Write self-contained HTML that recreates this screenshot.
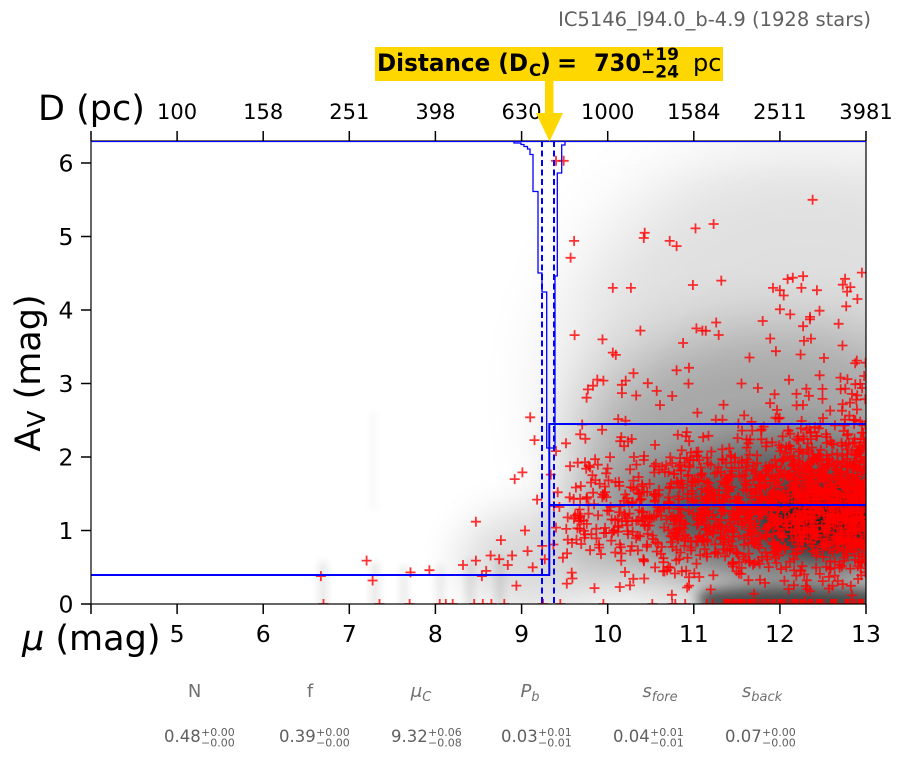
<!DOCTYPE html>
<html><head><meta charset="utf-8">
<style>
html,body{margin:0;padding:0;background:#fff;}
svg{display:block;}
text{font-family:"DejaVu Sans","Liberation Sans",sans-serif;}
</style></head><body>
<svg id="s" width="902" height="759" viewBox="0 0 902 759" xmlns="http://www.w3.org/2000/svg">
<defs>
<clipPath id="pa"><rect x="91" y="141" width="775" height="463"/></clipPath>
<filter id="b40" filterUnits="userSpaceOnUse" x="-200" y="-200" width="1300" height="1200"><feGaussianBlur stdDeviation="40"/></filter>
<filter id="b32" filterUnits="userSpaceOnUse" x="-200" y="-200" width="1300" height="1200"><feGaussianBlur stdDeviation="32"/></filter>
<filter id="b22" filterUnits="userSpaceOnUse" x="-200" y="-200" width="1300" height="1200"><feGaussianBlur stdDeviation="22"/></filter>
<filter id="b14" filterUnits="userSpaceOnUse" x="-200" y="-200" width="1300" height="1200"><feGaussianBlur stdDeviation="14"/></filter>
<filter id="b6" filterUnits="userSpaceOnUse" x="-200" y="-200" width="1300" height="1200"><feGaussianBlur stdDeviation="6"/></filter>
<filter id="b4" filterUnits="userSpaceOnUse" x="-200" y="-200" width="1300" height="1200"><feGaussianBlur stdDeviation="4"/></filter>
</defs>
<rect width="902" height="759" fill="#fff"/>

<!-- density -->
<g clip-path="url(#pa)">
  <ellipse cx="806" cy="395" rx="250" ry="250" fill="#000" opacity="0.12" filter="url(#b40)"/>
  <ellipse cx="780" cy="457" rx="200" ry="130" fill="#000" opacity="0.25" filter="url(#b32)"/>
  <ellipse cx="797" cy="508" rx="140" ry="70" fill="#000" opacity="0.45" filter="url(#b22)"/>
  <ellipse cx="832" cy="519" rx="70" ry="35" fill="#000" opacity="0.6" filter="url(#b14)"/>
  <ellipse cx="640" cy="520" rx="70" ry="55" fill="#000" opacity="0.18" filter="url(#b22)"/>
  <ellipse cx="539" cy="560" rx="80" ry="50" fill="#000" opacity="0.15" filter="url(#b22)"/>
  <rect x="700" y="592" width="190" height="22" fill="#000" opacity="0.5" filter="url(#b6)"/>
  <ellipse cx="797" cy="598" rx="100" ry="15" fill="#000" opacity="0.3" filter="url(#b6)"/>
  <rect x="319" y="562" width="8" height="50" fill="#000" opacity="0.1" filter="url(#b4)"/>
  <rect x="371" y="562" width="8" height="50" fill="#000" opacity="0.1" filter="url(#b4)"/>
  <rect x="400" y="565" width="8" height="50" fill="#000" opacity="0.08" filter="url(#b4)"/>
  <rect x="436" y="565" width="8" height="50" fill="#000" opacity="0.08" filter="url(#b4)"/>
  <rect x="466" y="560" width="8" height="50" fill="#000" opacity="0.1" filter="url(#b4)"/>
  <rect x="496" y="555" width="8" height="50" fill="#000" opacity="0.1" filter="url(#b4)"/>
  <rect x="370" y="412" width="6" height="98" fill="#000" opacity="0.035" filter="url(#b4)"/>
  <rect x="560" y="141" width="306" height="22" fill="#fff" opacity="0.35" filter="url(#b14)"/>

  <g id="sc" fill="none" stroke="#ff0000" stroke-opacity="0.8" stroke-width="1.8"></g>

  <!-- histogram -->
  <line x1="91" y1="141.5" x2="866" y2="141.5" stroke="#0000ff" stroke-width="1.2"/>
  <polyline fill="none" stroke="#0000ff" stroke-width="1.3" points="514,141.5 514,143 521,143 521,144.5 524,144.5 524,146.5 527.5,146.5 527.5,149 530,149 530,154.5 533,154.5 533,191.5 538,191.5 538,273 542,273 542,292 546.7,292 546.7,448 555,448 555,276 557.3,276 557.3,173 561.7,173 561.7,145 565,145 565,141.5"/>
  <!-- dashed -->
  <line x1="542" y1="141" x2="542" y2="604" stroke="#0000ff" stroke-width="2" stroke-dasharray="6,3.5"/>
  <line x1="554" y1="141" x2="554" y2="604" stroke="#0000ff" stroke-width="2" stroke-dasharray="6,3.5"/>
  <!-- steps -->
  <polyline fill="none" stroke="#0000ff" stroke-width="2" points="91,575 549.3,575 549.3,424 866,424"/>
  <line x1="549.3" y1="505" x2="866" y2="505" stroke="#0000ff" stroke-width="2"/>
</g>

<!-- spines -->
<rect x="91" y="141" width="775" height="463" fill="none" stroke="#000" stroke-width="1.2"/>
<line x1="91" y1="141.5" x2="866" y2="141.5" stroke="#0000ff" stroke-width="1"/>

<!-- ticks -->
<g stroke="#000" stroke-width="1.5">
  <line x1="91" y1="604" x2="91" y2="614"/><line x1="177.1" y1="604" x2="177.1" y2="614"/><line x1="263.2" y1="604" x2="263.2" y2="614"/><line x1="349.3" y1="604" x2="349.3" y2="614"/><line x1="435.4" y1="604" x2="435.4" y2="614"/><line x1="521.6" y1="604" x2="521.6" y2="614"/><line x1="607.7" y1="604" x2="607.7" y2="614"/><line x1="693.8" y1="604" x2="693.8" y2="614"/><line x1="779.9" y1="604" x2="779.9" y2="614"/><line x1="866" y1="604" x2="866" y2="614"/>
  <line x1="91" y1="141" x2="91" y2="131"/><line x1="177.1" y1="141" x2="177.1" y2="131"/><line x1="263.2" y1="141" x2="263.2" y2="131"/><line x1="349.3" y1="141" x2="349.3" y2="131"/><line x1="435.4" y1="141" x2="435.4" y2="131"/><line x1="521.6" y1="141" x2="521.6" y2="131"/><line x1="607.7" y1="141" x2="607.7" y2="131"/><line x1="693.8" y1="141" x2="693.8" y2="131"/><line x1="779.9" y1="141" x2="779.9" y2="131"/><line x1="866" y1="141" x2="866" y2="131"/>
  <line x1="81" y1="604" x2="91" y2="604"/><line x1="81" y1="530.5" x2="91" y2="530.5"/><line x1="81" y1="457" x2="91" y2="457"/><line x1="81" y1="383.5" x2="91" y2="383.5"/><line x1="81" y1="310" x2="91" y2="310"/><line x1="81" y1="236.5" x2="91" y2="236.5"/><line x1="81" y1="163" x2="91" y2="163"/>
</g>

<!-- bottom tick labels -->
<g font-size="23.5" fill="#000" text-anchor="middle">
  <text x="177.1" y="642">5</text><text x="263.2" y="642">6</text><text x="349.3" y="642">7</text><text x="435.4" y="642">8</text><text x="521.6" y="642">9</text><text x="607.7" y="642">10</text><text x="693.8" y="642">11</text><text x="779.9" y="642">12</text><text x="866" y="642">13</text>
</g>
<!-- left tick labels -->
<g font-size="23.5" fill="#000" text-anchor="end">
  <text x="73.5" y="612.6">0</text><text x="73.5" y="539.1">1</text><text x="73.5" y="465.6">2</text><text x="73.5" y="392.1">3</text><text x="73.5" y="318.6">4</text><text x="73.5" y="245.1">5</text><text x="73.5" y="171.6">6</text>
</g>
<!-- top tick labels -->
<g font-size="21" fill="#000" text-anchor="middle">
  <text x="177.1" y="119">100</text><text x="263.2" y="119">158</text><text x="349.3" y="119">251</text><text x="435.4" y="119">398</text><text x="521.6" y="119">630</text><text x="607.7" y="119">1000</text><text x="693.8" y="119">1584</text><text x="779.9" y="119">2511</text><text x="866" y="119">3981</text>
</g>

<!-- axis labels -->
<text x="38" y="120" font-size="35" fill="#000">D (pc)</text>
<text x="22" y="650" font-size="35" fill="#000"><tspan font-style="italic">μ</tspan> (mag)</text>
<text transform="translate(40,373) rotate(-90)" text-anchor="middle" font-size="35" fill="#000">A<tspan font-size="25" dy="5">V</tspan><tspan dy="-5"> (mag)</tspan></text>

<!-- title -->
<text x="871" y="26" text-anchor="end" font-size="19.5" fill="#606060">IC5146_l94.0_b-4.9 (1928 stars)</text>

<!-- annotation -->
<rect x="375" y="47" width="348" height="34" fill="#FFD700"/>
<rect x="545" y="80" width="8.5" height="34" fill="#FFD700"/>
<polygon points="536,113 563,113 549.5,141.5" fill="#FFD700"/>
<text font-weight="bold" font-size="24" fill="#000">
  <tspan x="377" y="71" textLength="151" lengthAdjust="spacingAndGlyphs">Distance (D</tspan><tspan x="529" y="76" font-size="16.5">C</tspan><tspan x="540" y="71">)</tspan><tspan x="557" y="71">=</tspan><tspan x="594" y="71" textLength="47" lengthAdjust="spacingAndGlyphs">730</tspan><tspan x="641" y="60" font-size="17">+19</tspan><tspan x="641" y="77.5" font-size="17">−24</tspan><tspan x="693" y="71" font-weight="normal">pc</tspan>
</text>

<!-- parameter table -->
<g font-size="18" fill="#707070" text-anchor="middle">
  <text x="194.6" y="697">N</text>
  <text x="310" y="697">f</text>
  <text x="421" y="697" font-style="italic">μ<tspan font-size="13" dy="4">C</tspan></text>
  <text x="530" y="697" font-style="italic">P<tspan font-size="13" dy="4">b</tspan></text>
  <text x="660" y="697" font-style="italic">s<tspan font-size="13" dy="4">fore</tspan></text>
  <text x="762" y="697" font-style="italic">s<tspan font-size="13" dy="4">back</tspan></text>
</g>
<g font-size="16.5" fill="#606060">
  <text><tspan x="164" y="742">0.48</tspan><tspan x="201" y="736" font-size="11">+0.00</tspan><tspan x="201" y="746.5" font-size="11">−0.00</tspan></text>
  <text><tspan x="279" y="742">0.39</tspan><tspan x="316" y="736" font-size="11">+0.00</tspan><tspan x="316" y="746.5" font-size="11">−0.00</tspan></text>
  <text><tspan x="391" y="742">9.32</tspan><tspan x="428" y="736" font-size="11">+0.06</tspan><tspan x="428" y="746.5" font-size="11">−0.08</tspan></text>
  <text><tspan x="501" y="742">0.03</tspan><tspan x="538" y="736" font-size="11">+0.01</tspan><tspan x="538" y="746.5" font-size="11">−0.01</tspan></text>
  <text><tspan x="613" y="742">0.04</tspan><tspan x="650" y="736" font-size="11">+0.01</tspan><tspan x="650" y="746.5" font-size="11">−0.01</tspan></text>
  <text><tspan x="725" y="742">0.07</tspan><tspan x="762" y="736" font-size="11">+0.00</tspan><tspan x="762" y="746.5" font-size="11">−0.00</tspan></text>
</g>
</svg>
<script>
(function(){
var s=12345;
function R(){s|=0;s=s+0x6D2B79F5|0;var t=Math.imul(s^s>>>15,1|s);t=t+Math.imul(t^t>>>7,61|t)^t;return((t^t>>>14)>>>0)/4294967296;}
function G(){var u=R();if(u<1e-9)u=1e-9;return Math.sqrt(-2*Math.log(u))*Math.cos(6.283185*R());}
var P=[],i,m,a;
for(i=0;i<1450;i++){var u=R();m=9.35+3.65*Math.pow(u,i<300?0.7:0.33);var c=1.25+0.08*(m-11);var sd=0.4+0.05*(m-10);a=c+sd*G();if(R()<0.12)a+=-Math.log(R()+1e-9)*0.8;if(a<0)a=0;if(a>4.6)a=4.6-R()*1.5;P.push([m,a]);}
for(i=0;i<140;i++){m=9.5+1.6*R();a=1.5+0.7*G();if(a<0.2)a=0.2+R()*0.3;P.push([m,a]);}
for(i=0;i<110;i++)P.push([11.35+1.65*R(),0]);
var E=[[6.67,0.38],[7.20,0.59],[7.27,0.32],[7.71,0.43],[7.93,0.46],[8.32,0.53],[8.47,0.59],[8.47,1.12],[8.54,0.38],[8.59,0.45],[8.64,0.66],[8.74,0.61],[8.76,0.87],[8.84,0.53],[8.89,0.66],[8.94,0.25],[9.01,1.79],[8.92,1.70],[9.04,1.0],[9.07,0.72],[9.10,2.54],[9.15,2.23],[9.13,0.5],[9.18,1.42],[9.24,0.79],[9.27,0.61],[9.34,1.76],[9.37,0.81],[9.40,1.04],[9.40,2.08],[9.42,1.52],[9.48,0.63],
[6.7,0],[7.35,0],[7.7,0],[8.05,0],[8.12,0],[8.2,0],[8.45,0],[8.55,0],[8.65,0],[8.8,0],[9.25,0],[9.45,0],[9.95,0],[10.75,0],[10.9,0],[11.15,0],[11.22,0],
[9.40,6.03],[9.49,6.03],[9.61,4.94],[9.57,4.71],[10.06,4.30],[10.27,4.30],[9.94,3.6],[10.06,3.42],[10.38,3.72],[10.43,5.05],[10.42,4.98],[10.72,4.94],[10.80,4.87],[11.02,5.11],[11.23,5.17],[12.38,5.5],[10.99,4.34],[11.32,4.4],[11.26,3.83],[11.03,3.75],[11.1,3.72],[11.29,3.66],[10.80,3.18],[10.30,3.14],[9.95,3.04],[9.83,2.97],[9.77,2.92],[10.21,3.04],[10.57,2.90],[10.75,2.83],[11.92,4.3],[12.0,4.27],[12.09,4.42],[12.27,4.46],[12.15,4.44],[12.25,4.3],[12.43,4.27],[12.78,4.25],[12.77,4.05],[12.9,4.15],[12.46,3.99],[12.0,4.01],[12.12,3.94],[11.8,3.85],[12.27,3.78],[12.28,3.58]];
P=P.concat(E);
var h='';
for(i=0;i<P.length;i++){var x=91+(P[i][0]-4)*86.111,y=604-P[i][1]*73.5;h+='<path d="M'+(x-5).toFixed(1)+' '+y.toFixed(1)+'h10M'+x.toFixed(1)+' '+(y-5).toFixed(1)+'v10"/>';}
document.getElementById('sc').innerHTML=h;
})();
</script>
</body></html>
